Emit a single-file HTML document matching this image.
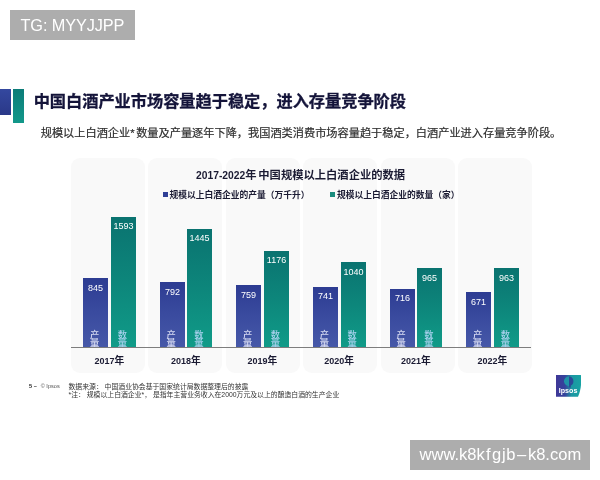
<!DOCTYPE html>
<html lang="zh-CN">
<head>
<meta charset="utf-8">
<title>中国白酒产业市场容量趋于稳定，进入存量竞争阶段</title>
<style>
html,body{margin:0;padding:0;}
body{width:600px;height:480px;position:relative;overflow:hidden;background:#fff;
 font-family:"Liberation Sans","Noto Sans CJK SC",sans-serif;color:#1b1b3a;}
.abs{position:absolute;white-space:nowrap;line-height:1;}
.wm{position:absolute;background:#adadad;color:#fff;white-space:nowrap;}
#wm1{left:10px;top:10px;width:125px;height:30px;}
#wm1 span{position:absolute;left:10.5px;top:7.4px;font-size:16.3px;line-height:16px;letter-spacing:-0.1px;}
#wm2{left:410px;top:440px;width:180px;height:30px;background:#adadad;}
#wm2 i{font-style:normal;}
#wm2 span{position:absolute;left:9.5px;top:5.6px;font-size:16.55px;line-height:18px;}
#acc1{position:absolute;left:0;top:89.3px;width:10.6px;height:25.4px;background:linear-gradient(180deg,#34489f,#2a3888);}
#acc2{position:absolute;left:12.7px;top:89.3px;width:11.3px;height:34.2px;background:linear-gradient(180deg,#0c7c78,#12988a);}
#title{left:33.7px;top:91.7px;font-size:16.2px;font-weight:bold;color:#14143a;-webkit-text-stroke:0.3px #14143a;line-height:18px;}
#sub{left:40.7px;top:127px;font-size:11.2px;color:#2e2e2e;-webkit-text-stroke:0.2px #2e2e2e;line-height:13px;}
.panel{position:absolute;top:157.5px;height:215px;width:74px;background:#f9f9f9;border-radius:9px;}
#ctitle .n{font-size:10.3px;}
#ctitle{left:196px;top:169.2px;word-spacing:-1.4px;font-size:11.3px;font-weight:bold;color:#1b1b33;line-height:12px;}
.lg{font-size:8.75px;font-weight:bold;color:#1b1b33;line-height:11px;top:189.5px;}
.mk{position:absolute;top:192px;width:5px;height:5px;}
.bar{position:absolute;width:25px;}
.b{background:linear-gradient(180deg,#2d3c92 0%,#3a4b9f 50%,#4658a8 100%);}
.g{background:linear-gradient(180deg,#0a7370 0%,#0d867b 50%,#109b88 100%);}
.bar .v{position:absolute;left:0;right:0;top:3.5px;text-align:center;color:#fff;font-size:9.9px;line-height:12px;transform:scaleX(0.91);}
.bar .t{position:absolute;left:-0.8px;right:0.8px;bottom:-0.6px;text-align:center;font-size:9.3px;line-height:8.6px;font-weight:500;}
.b .t{color:#d6daf1;}
.g .t{color:#a6d0ec;}
#axis{position:absolute;left:71px;top:346.8px;width:460px;height:1px;background:#7d7d7d;}
.yr .n{font-size:9px;}
.yr{font-size:9.8px;font-weight:bold;color:#1b1b33;top:355px;line-height:11px;width:60px;text-align:center;}
.ft{font-size:6.85px;color:#333;line-height:8px;}
#pg{left:29px;top:383px;font-size:5.6px;color:#555;line-height:6px;}
#pg b{color:#222;position:absolute;left:0;top:0;}
#pg span{position:absolute;left:11.7px;top:0;}
#logo{position:absolute;left:556.3px;top:374.5px;width:25px;height:22px;}
</style>
</head>
<body>
<div class="wm" id="wm1"><span>TG: MYYJJPP</span></div>

<div id="acc1"></div><div id="acc2"></div>
<div class="abs" id="title">中国白酒产业市场容量趋于稳定，进入存量竞争阶段</div>
<div class="abs" id="sub">规模以上白酒企业<span style="letter-spacing:1.6px">*</span>数量及产量逐年下降，我国酒类消费市场容量趋于稳定，白酒产业进入存量竞争阶段。</div>

<div class="panel" style="left:70.5px"></div>
<div class="panel" style="left:148.2px"></div>
<div class="panel" style="left:225.7px"></div>
<div class="panel" style="left:303.2px"></div>
<div class="panel" style="left:380.6px"></div>
<div class="panel" style="left:458.2px"></div>

<div class="abs" id="ctitle"><span class="n">2017-2022</span>年 中国规模以上白酒企业的数据</div>
<div class="mk" style="left:162.5px;background:#2f3f96"></div>
<div class="abs lg" style="left:169.5px">规模以上白酒企业的产量（万千升）</div>
<div class="mk" style="left:330px;background:#1a8c7e"></div>
<div class="abs lg" style="left:337px">规模以上白酒企业的数量（家）</div>

<!-- bars: baseline y=347.2 -->
<div class="bar b" style="left:83px;top:278px;height:69.2px"><div class="v">845</div><div class="t">产<br>量</div></div>
<div class="bar g" style="left:110.8px;top:216.7px;height:130.5px"><div class="v">1593</div><div class="t">数<br>量</div></div>

<div class="bar b" style="left:159.5px;top:282.3px;height:64.9px"><div class="v">792</div><div class="t">产<br>量</div></div>
<div class="bar g" style="left:187.3px;top:228.8px;height:118.4px"><div class="v">1445</div><div class="t">数<br>量</div></div>

<div class="bar b" style="left:236px;top:285px;height:62.2px"><div class="v">759</div><div class="t">产<br>量</div></div>
<div class="bar g" style="left:263.8px;top:250.9px;height:96.3px"><div class="v">1176</div><div class="t">数<br>量</div></div>

<div class="bar b" style="left:312.7px;top:286.5px;height:60.7px"><div class="v">741</div><div class="t">产<br>量</div></div>
<div class="bar g" style="left:340.5px;top:262px;height:85.2px"><div class="v">1040</div><div class="t">数<br>量</div></div>

<div class="bar b" style="left:389.5px;top:288.6px;height:58.6px"><div class="v">716</div><div class="t">产<br>量</div></div>
<div class="bar g" style="left:417.3px;top:268.2px;height:79px"><div class="v">965</div><div class="t">数<br>量</div></div>

<div class="bar b" style="left:466px;top:292.2px;height:55px"><div class="v">671</div><div class="t">产<br>量</div></div>
<div class="bar g" style="left:493.8px;top:268.3px;height:78.9px"><div class="v">963</div><div class="t">数<br>量</div></div>

<div id="axis"></div>

<div class="abs yr" style="left:79.4px"><span class="n">2017</span>年</div>
<div class="abs yr" style="left:155.9px"><span class="n">2018</span>年</div>
<div class="abs yr" style="left:232.4px"><span class="n">2019</span>年</div>
<div class="abs yr" style="left:309.1px"><span class="n">2020</span>年</div>
<div class="abs yr" style="left:385.9px"><span class="n">2021</span>年</div>
<div class="abs yr" style="left:462.4px"><span class="n">2022</span>年</div>

<div class="abs" id="pg"><b>5 –</b><span>© Ipsos</span></div>
<div class="abs ft" style="left:68.5px;top:383.2px">数据来源： 中国酒业协会基于国家统计局数据整理后的披露</div>
<div class="abs ft" style="left:68.5px;top:391.1px">*注： 规模以上白酒企业*， 是指年主营业务收入在2000万元及以上的酿造白酒的生产企业</div>

<svg id="logo" viewBox="0 0 25 22">
  <defs>
    <clipPath id="lc"><path d="M0 0 H24.9 C25.7 8 24.8 15.5 22 21.8 H0 Z"/></clipPath>
    <linearGradient id="lg1" x1="0" y1="0" x2="1" y2="0">
      <stop offset="0" stop-color="#3f3797"/><stop offset="0.36" stop-color="#34439c"/>
      <stop offset="0.5" stop-color="#2a6f9f"/><stop offset="0.62" stop-color="#1c96a2"/><stop offset="1" stop-color="#17a3a3"/>
    </linearGradient>
  </defs>
  <g clip-path="url(#lc)">
    <rect x="0" y="0" width="25" height="22" fill="url(#lg1)"/>
    <path d="M13 1.4 C9.6 1.5 7.8 4 8 6.6 C8.2 9 9.8 10.8 13 11.2 Z" fill="#1f93a8"/>
    <path d="M13 1.4 C16.2 1.6 17.6 4 17.4 6.4 C17.3 8.4 16.4 9.8 14.8 10.6 L14.8 12.4 L13 12.4 Z" fill="#2b4a98"/>
  </g>
  <text x="2.8" y="18.2" font-family="Liberation Sans, sans-serif" font-weight="bold" font-size="7.1" fill="#fff">Ipsos</text>
</svg>

<div class="wm" id="wm2"><span>www.k8k<i style="margin:0 1.4px 0 1.2px">f</i>g<i style="margin:0 0.6px 0 0.9px">j</i>b<i style="margin:0 1.6px">‒</i>k8.com</span></div>
</body>
</html>
